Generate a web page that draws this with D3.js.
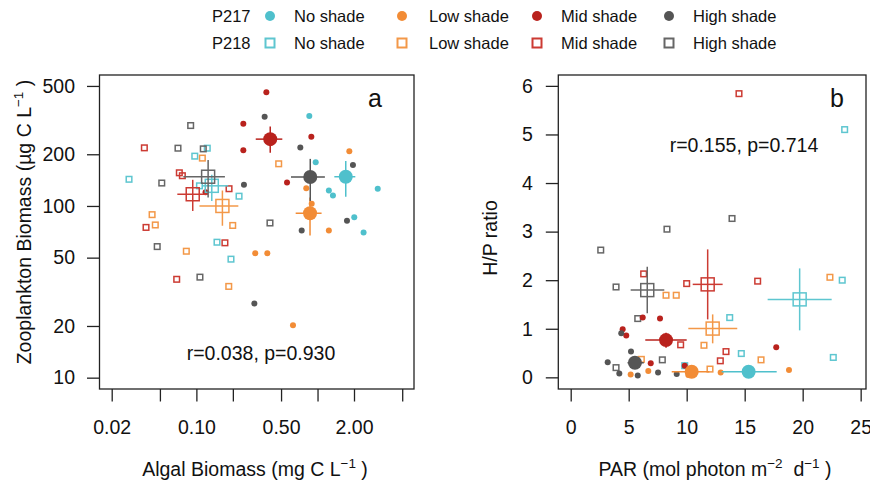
<!DOCTYPE html>
<html>
<head>
<meta charset="utf-8">
<script src="https://cdn.jsdelivr.net/npm/d3@7"></script>
<style>
body { margin: 0; background: #fff; }
text { font-family: "Liberation Sans", Arial, Helvetica, sans-serif; fill: #111; white-space: pre; }
</style>
</head>
<body>
<svg id="fig" width="870" height="483"></svg>
<script>
const shades = ["No shade", "Low shade", "Mid shade", "High shade"];
const ponds = ["P217", "P218"];
const dotColors = ["#4fc0cc", "#f28c36", "#b9221d", "#555555"];
const boxColors = ["#5ec6d0", "#f39848", "#cc3b33", "#666666"];

// panel a: [shade, algal biomass mg C/L, zooplankton biomass ug C/L]
const bioP217 = [
  [0, 0.855, 334], [0, 0.966, 180], [0, 1.24, 123], [0, 1.34, 115], [0, 3.14, 126], [0, 2.01, 86], [0, 2.40, 70],
  [1, 1.83, 208], [1, 0.807, 127], [1, 0.895, 103], [1, 1.24, 72], [1, 0.306, 53], [1, 0.385, 53], [1, 0.627, 20.2],
  [2, 0.378, 459], [2, 0.244, 301], [2, 0.244, 211], [2, 0.889, 253], [2, 0.56, 137], [2, 0.119, 120], [2, 0.415, 234],
  [3, 0.366, 331], [3, 0.721, 219], [3, 1.96, 173], [3, 0.247, 133], [3, 1.75, 82], [3, 0.74, 72], [3, 0.301, 27]
];
const bioP218 = [
  [0, 0.123, 217], [0, 0.097, 195], [0, 0.0278, 143], [0, 0.106, 131], [0, 0.225, 114], [0, 0.148, 61.5], [0, 0.193, 49],
  [1, 0.112, 190], [1, 0.478, 176], [1, 0.0431, 89], [1, 0.0458, 77.5], [1, 0.1995, 77], [1, 0.0826, 54.5], [1, 0.185, 34],
  [2, 0.0372, 218], [2, 0.0723, 156], [2, 0.0766, 150], [2, 0.186, 126], [2, 0.0384, 75], [2, 0.172, 61], [2, 0.0688, 37.4],
  [3, 0.0897, 294], [3, 0.0705, 217], [3, 0.114, 215], [3, 0.0518, 136], [3, 0.0475, 58], [3, 0.107, 38.5], [3, 0.405, 79.6]
];
// [pond, shade, x, xlo, xhi, y, ylo, yhi]
const bioMeans = [
  [1, 0, 0.134, 0.111, 0.183, 131, 107, 152],
  [1, 1, 0.164, 0.106, 0.222, 100, 76.7, 123],
  [1, 2, 0.0933, 0.0696, 0.125, 117, 93.5, 142],
  [1, 3, 0.125, 0.078, 0.172, 148, 112, 185],
  [0, 0, 1.71, 1.376, 2.05, 148, 113, 183],
  [0, 1, 0.867, 0.66, 1.08, 90.7, 67.2, 112],
  [0, 2, 0.407, 0.309, 0.512, 245, 204, 290],
  [0, 3, 0.871, 0.604, 1.15, 147.5, 107, 188]
];

// panel b: [shade, PAR, H/P ratio]
const hpP217 = [
  [1, 5.17, 0.06], [1, 6.69, 0.13], [1, 12.93, 0.10], [1, 18.82, 0.15], [1, 10.14, 0.05],
  [2, 6.21, 1.23], [2, 7.70, 1.21], [2, 4.48, 0.99], [2, 4.79, 0.86], [2, 6.90, 0.29], [2, 17.72, 0.62], [2, 9.83, 0.24],
  [3, 4.36, 0.91], [3, 5.20, 0.53], [3, 3.19, 0.31], [3, 4.19, 0.08], [3, 5.78, 0.04], [3, 7.53, 0.10], [3, 9.14, 0.07]
];
const hpP218 = [
  [0, 23.62, 5.10], [0, 23.41, 2.00], [0, 13.71, 1.23], [0, 14.71, 0.49], [0, 22.64, 0.41], [0, 9.83, 0.24],
  [1, 8.22, 1.69], [1, 9.10, 1.69], [1, 11.49, 0.66], [1, 6.09, 0.37], [1, 12.01, 0.17], [1, 16.41, 0.36], [1, 22.35, 2.06],
  [2, 6.29, 2.13], [2, 10.0, 1.93], [2, 9.48, 0.67], [2, 14.51, 5.84], [2, 16.12, 1.98], [2, 13.39, 0.53], [2, 12.90, 0.34],
  [3, 8.30, 3.05], [3, 2.59, 2.62], [3, 3.91, 1.86], [3, 5.78, 1.21], [3, 3.91, 0.20], [3, 7.90, 0.36], [3, 13.91, 3.27]
];
const hpMeans = [
  [1, 0, 19.74, 16.98, 22.5, 1.605, 0.967, 2.243],
  [1, 1, 12.24, 10.14, 14.36, 1.004, 0.70, 1.296],
  [1, 2, 11.81, 10.52, 13.10, 1.914, 1.193, 2.634],
  [1, 3, 6.60, 5.17, 8.07, 1.796, 1.317, 2.276],
  [0, 0, 15.34, 13.02, 17.76, 0.115, 0.07, 0.16],
  [0, 1, 10.43, 8.71, 11.95, 0.115, 0.08, 0.15],
  [0, 2, 8.22, 6.43, 10.0, 0.767, 0.61, 0.92],
  [0, 3, 5.54, 4.9, 6.3, 0.30, 0.18, 0.42]
];

const bioXTicks = [0.02, 0.05, 0.1, 0.2, 0.5, 1, 2, 5];
const bioXLabels = [0.02, 0.1, 0.5, 2];
const bioYTicks = [10, 20, 50, 100, 200, 500];
const parTicks = [0, 5, 10, 15, 20, 25];
const hpTicks = [0, 1, 2, 3, 4, 5, 6];

const svg = d3.select("#fig");
const plotTop = 75, plotBottom = 389;

const xa = d3.scaleLog().domain([0.01586, 6.256]).range([99.5, 414]);
const ya = d3.scaleLog().domain([8.59, 579]).range([plotBottom, plotTop]);
const xb = d3.scaleLinear().domain([-1.069, 25.46]).range([558.3, 866]);
const yb = d3.scaleLinear().domain([-0.24, 6.224]).range([plotBottom, plotTop]);

function styleAxis(g) {
  g.select(".domain").remove();
  g.selectAll("line").attr("stroke", "#222").attr("stroke-width", 1.3);
  g.selectAll("text").attr("font-size", 19.5).attr("fill", "#111")
    .attr("font-family", "Liberation Sans, Arial, sans-serif");
}

function drawPanel(x, y, xAxis, yAxis, small217, small218, means) {
  svg.append("g").attr("transform", `translate(0,${plotBottom})`)
    .call(xAxis.tickSize(12.5).tickPadding(18.5)).call(styleAxis);
  svg.append("g").attr("transform", `translate(${x.range()[0]},0)`)
    .call(yAxis.tickSize(12.5)).call(styleAxis);

  svg.append("rect")
    .attr("x", x.range()[0]).attr("y", plotTop)
    .attr("width", x.range()[1] - x.range()[0]).attr("height", plotBottom - plotTop)
    .attr("fill", "none").attr("stroke", "#222").attr("stroke-width", 1.3);

  svg.append("g").selectAll("rect").data(small218).join("rect")
    .attr("x", d => x(d[1]) - 2.8).attr("y", d => y(d[2]) - 2.8)
    .attr("width", 5.6).attr("height", 5.6)
    .attr("fill", "none").attr("stroke", d => boxColors[d[0]]).attr("stroke-width", 1.5);

  svg.append("g").selectAll("circle").data(small217).join("circle")
    .attr("cx", d => x(d[1])).attr("cy", d => y(d[2])).attr("r", 3)
    .attr("fill", d => dotColors[d[0]]);

  const m = svg.append("g").selectAll("g").data(means).join("g");
  const col = d => d[0] === 0 ? dotColors[d[1]] : boxColors[d[1]];
  m.append("line")
    .attr("x1", d => x(d[3])).attr("x2", d => x(d[4]))
    .attr("y1", d => y(d[5])).attr("y2", d => y(d[5]))
    .attr("stroke", col).attr("stroke-width", 1.5);
  m.append("line")
    .attr("x1", d => x(d[2])).attr("x2", d => x(d[2]))
    .attr("y1", d => y(d[6])).attr("y2", d => y(d[7]))
    .attr("stroke", col).attr("stroke-width", 1.5);
  m.filter(d => d[0] === 1).append("rect")
    .attr("x", d => x(d[2]) - 6.5).attr("y", d => y(d[5]) - 6.5)
    .attr("width", 13).attr("height", 13)
    .attr("fill", "none").attr("stroke", col).attr("stroke-width", 1.5);
  m.filter(d => d[0] === 0).append("circle")
    .attr("cx", d => x(d[2])).attr("cy", d => y(d[5])).attr("r", 7)
    .attr("fill", col);
}

drawPanel(xa, ya,
  d3.axisBottom(xa).tickValues(bioXTicks)
    .tickFormat(d => bioXLabels.includes(d) ? d3.format(".2f")(d) : ""),
  d3.axisLeft(ya).tickValues(bioYTicks).tickFormat(d3.format("d")).tickPadding(12),
  bioP217, bioP218, bioMeans);

drawPanel(xb, yb,
  d3.axisBottom(xb).tickValues(parTicks).tickFormat(d3.format("d")),
  d3.axisLeft(yb).tickValues(hpTicks).tickFormat(d3.format("d")).tickPadding(13),
  hpP217, hpP218, hpMeans);

// axis titles with superscripts
function title(parts, x, y, rotate) {
  const t = svg.append("text").attr("text-anchor", "middle").attr("font-size", 19.5)
    .attr("transform", `translate(${x},${y})` + (rotate ? " rotate(-90)" : ""));
  parts.forEach(p => {
    const s = t.append("tspan").text(p[0]);
    if (p[1]) s.attr("font-size", 13.5).attr("dy", -8);
    else if (p[2]) s.attr("dy", 8);
  });
}
title([["Algal Biomass (mg C L"], ["\u22121", true], [" )", false, true]], 255, 476);
title([["PAR (mol photon m"], ["\u22122", true], ["  d", false, true], ["\u22121", true], [" )", false, true]], 715, 476);
title([["Zooplankton Biomass (\u00b5g C L"], ["\u22121", true], [" )", false, true]], 31, 222, true);
svg.append("text").attr("text-anchor", "middle").attr("font-size", 19.5)
  .attr("transform", "translate(497,238) rotate(-90)").text("H/P ratio");

svg.append("text").attr("x", 368).attr("y", 107).attr("font-size", 25).text("a");
svg.append("text").attr("x", 830).attr("y", 107).attr("font-size", 25).text("b");
svg.append("text").attr("x", 261).attr("y", 360).attr("text-anchor", "middle")
  .attr("font-size", 19.5).text("r=0.038, p=0.930");
svg.append("text").attr("x", 744).attr("y", 152).attr("text-anchor", "middle")
  .attr("font-size", 19.5).text("r=0.155, p=0.714");

// legend
const legX = [270, 402, 537, 669];
const legRows = [16, 43];
const leg = svg.append("g");
ponds.forEach((p, i) => {
  leg.append("text").attr("x", 212).attr("y", legRows[i] + 6).attr("font-size", 16.5).text(p);
  shades.forEach((s, j) => {
    if (i === 0) {
      leg.append("circle").attr("cx", legX[j]).attr("cy", legRows[i]).attr("r", 5).attr("fill", dotColors[j]);
    } else {
      leg.append("rect").attr("x", legX[j] - 4.5).attr("y", legRows[i] - 4.5)
        .attr("width", 9).attr("height", 9).attr("fill", "none")
        .attr("stroke", boxColors[j]).attr("stroke-width", 2);
    }
    leg.append("text").attr("x", legX[j] + 24 + (j === 1 ? 3 : 0)).attr("y", legRows[i] + 6)
      .attr("font-size", 16.5).text(s);
  });
});
</script>
</body>
</html>
